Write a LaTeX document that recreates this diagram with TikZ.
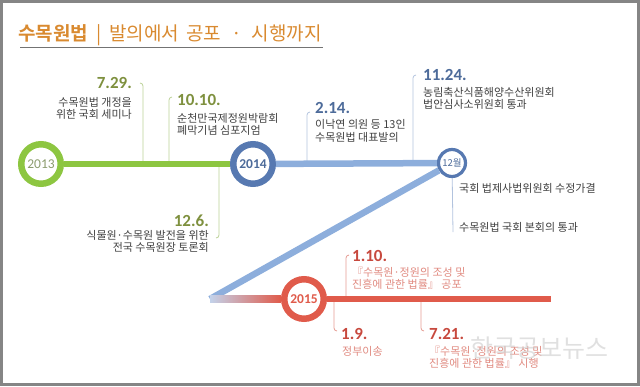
\documentclass[tikz,border=0pt]{standalone}
\usepackage{fontspec}
\setmainfont{Noto Sans CJK KR}[BoldFont={Noto Sans CJK KR Bold}]
\newfontfamily\numfont{Carlito}
\definecolor{framegray}{HTML}{858585}
\definecolor{titleorange}{HTML}{D98A30}
\definecolor{linegreen}{HTML}{8DC641}
\definecolor{dategreen}{HTML}{7E903E}
\definecolor{yeargreen}{HTML}{8C9C6E}
\definecolor{leadgreen}{HTML}{BBD196}
\definecolor{ringblue}{HTML}{5779B1}
\definecolor{lineblue}{HTML}{8DAEDC}
\definecolor{dateblue}{HTML}{4D6B9A}
\definecolor{leadblue}{HTML}{B2C3DE}
\definecolor{palebl}{HTML}{C3D2EA}
\definecolor{linered}{HTML}{E05B4B}
\definecolor{datered}{HTML}{C7493E}
\definecolor{pinktext}{HTML}{E08A80}
\definecolor{leadred}{HTML}{E59B92}
\definecolor{bodygray}{HTML}{404040}
\usetikzlibrary{positioning}

\begin{document}
\begin{tikzpicture}[x=1pt, y=-1pt,
    bar/.style={line width=6.5pt},
    ring/.style={circle, draw, fill=white, line width=6.5pt, minimum size=39.5pt, inner sep=0pt, font=\numfont\fontsize{13.5}{13.5}\selectfont},
    leader/.style={line width=0.8pt, rounded corners=3pt},
    datelbl/.style={inner sep=0pt, text depth=0pt, font=\numfont\bfseries\fontsize{17}{17}\selectfont},
    bodytxt/.style={inner sep=0pt, text=bodygray, font=\fontsize{11}{13}\selectfont}]
  \useasboundingbox (0,0) rectangle (640,386);
  \fill[framegray] (0,0) rectangle (640,2.5);
  \fill[framegray] (0,0) rectangle (3,386);
  \fill[framegray] (637,0) rectangle (640,386);
  \fill[framegray] (0,383) rectangle (640,386);

  \node[anchor=base west, inner sep=0pt, text=titleorange, font=\fontsize{19}{19}\selectfont] (title) at (18,40.5)
    {\textbf{수목원법}\hspace{8pt}|\hspace{8pt}발의에서\hspace{7pt}공포\hspace{10pt}·\hspace{10pt}시행까지};
  \draw[line width=1.5pt, black!55] (20,47.5) -- (323,47.5);

  \coordinate (t729) at (143,164);   \coordinate (h729) at (140,83);
  \coordinate (t1010) at (169,164);  \coordinate (h1010) at (172,97);
  \coordinate (t126) at (219,164);   \coordinate (h126) at (216,238);
  \coordinate (t214) at (307,164);   \coordinate (h214) at (310,112);
  \coordinate (t1124) at (413,164);  \coordinate (h1124) at (416,75);
  \coordinate (t110) at (346,299);   \coordinate (h110) at (349,255);
  \coordinate (t19) at (334,299);    \coordinate (h19) at (337,331);
  \coordinate (t721) at (421,299);   \coordinate (h721) at (424,331);
  \coordinate (e12) at (453,232);
  \coordinate (turn) at (210,299);
  \coordinate (redend) at (551,299);

  \draw[leader, leadgreen] (t729) |- (h729);
  \draw[leader, leadgreen] (t1010) |- (h1010);
  \draw[leader, leadgreen] (t126) |- (h126);
  \draw[leader, leadblue] (t214) |- (h214);
  \draw[leader, leadblue] (t1124) |- (h1124);
  \draw[leader, leadred] (t110) |- (h110);
  \draw[leader, leadred] (t19) |- (h19);
  \draw[leader, leadred] (t721) |- (h721);

  \node[ring, draw=linegreen, text=yeargreen] (y2013) at (41,164) {2013};
  \node[ring, draw=ringblue, text=dateblue, font=\numfont\bfseries\fontsize{13.5}{13.5}\selectfont] (y2014) at (253,164) {2014};
  \node[circle, draw=ringblue, fill=white, line width=3.2pt, minimum size=27pt, inner sep=0pt, text=dateblue, font=\fontsize{9.5}{9.5}\selectfont] (m12) at (452,163) {12월};
  \node[ring, draw=linered, text=linered, font=\numfont\bfseries\fontsize{13.5}{13.5}\selectfont] (y2015) at (304,299) {2015};

  \draw[leader, leadblue] (m12) -- (e12);
  \draw[bar, linegreen] (y2013) -- (y2014);
  \draw[bar, lineblue] (y2014) -- (m12);
  \draw[bar, lineblue] (m12) -- (turn);
  \shade[left color=palebl, middle color=black!8!white, right color=linered] ([yshift=3.25pt]turn) rectangle ([yshift=-3.25pt]y2015.west);
  \draw[bar, linered] (y2015) -- (redend);

  \node[datelbl, text=dategreen, anchor=base east] (d729) at (132,88) {7.29.};
  \node[bodytxt, anchor=base east] (a729) at (132,106) {수목원법 개정을};
  \node[bodytxt, anchor=base east] (b729) at (132,118) {위한 국회 세미나};

  \node[datelbl, text=dategreen, anchor=base west] (d1010) at (177,105) {10.10.};
  \node[bodytxt, anchor=base west] (a1010) at (177,122) {순천만국제정원박람회};
  \node[bodytxt, anchor=base west] (b1010) at (177,134) {폐막기념 심포지엄};

  \node[datelbl, text=dategreen, anchor=base east] (d126) at (209,226.5) {12.6.};
  \node[bodytxt, anchor=base east] (a126) at (209,239) {식물원·수목원 발전을 위한};
  \node[bodytxt, anchor=base east] (b126) at (209,251) {전국 수목원장 토론회};

  \node[datelbl, text=dateblue, anchor=base west] (d214) at (315,113) {2.14.};
  \node[bodytxt, anchor=base west] (a214) at (315,128) {이낙연 의원 등 13인};
  \node[bodytxt, anchor=base west] (b214) at (315,141) {수목원법 대표발의};

  \node[datelbl, text=dateblue, anchor=base west] (d1124) at (423,80) {11.24.};
  \node[bodytxt, anchor=base west] (a1124) at (423,96) {농림축산식품해양수산위원회};
  \node[bodytxt, anchor=base west] (b1124) at (423,108) {법안심사소위원회 통과};

  \node[bodytxt, anchor=base west] (a12) at (459,192) {국회 법제사법위원회 수정가결};
  \node[bodytxt, anchor=base west] (b12) at (459,231) {수목원법 국회 본회의 통과};

  \node[datelbl, text=datered, anchor=base west] (d110) at (352,261) {1.10.};
  \node[bodytxt, text=pinktext, anchor=base west] (a110) at (352,276) {『수목원·정원의 조성 및};
  \node[bodytxt, text=pinktext, anchor=base west] (b110) at (352,288) {진흥에 관한 법률』 공포};

  \node[datelbl, text=datered, anchor=base west] (d19) at (341,339) {1.9.};
  \node[bodytxt, text=pinktext, anchor=base west] (a19) at (342,355) {정부이송};

  \node[datelbl, text=datered, anchor=base west] (d721) at (429,339) {7.21.};
  \node[bodytxt, text=pinktext, anchor=base west] (a721) at (429,355) {『수목원·정원의 조성 및};
  \node[bodytxt, text=pinktext, anchor=base west] (b721) at (429,367) {진흥에 관한 법률』 시행};

  \node[anchor=base west, inner sep=0pt, text=black!20, opacity=0.6, font=\fontsize{25}{25}\selectfont] (mark) at (470,357) {한국공보뉴스};
\end{tikzpicture}
\end{document}
